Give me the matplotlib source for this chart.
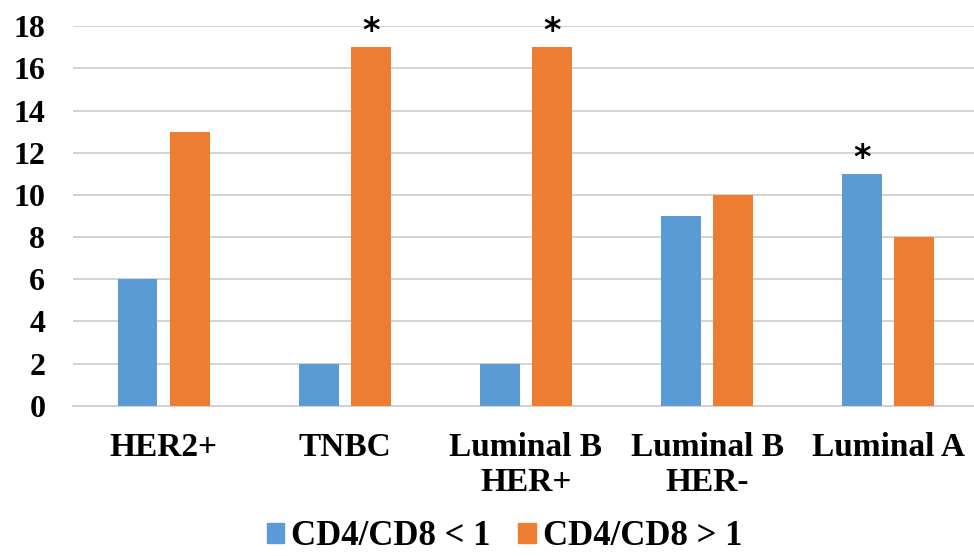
import matplotlib
matplotlib.use("Agg")
import matplotlib.pyplot as plt
import numpy as np
from matplotlib.patches import Patch

categories = ["HER2+", "TNBC", "Luminal B\nHER+", "Luminal B\nHER-", "Luminal A"]
ratio_below_1 = [6, 2, 2, 9, 11]
ratio_above_1 = [13, 17, 17, 10, 8]
series_names = ["CD4/CD8 < 1", "CD4/CD8 > 1"]
# which bar of each group carries a significance star (0 = blue, 1 = orange, None = none)
starred = [None, 1, 1, None, 0]
y_ticks = list(range(0, 19, 2))

blue = "#5B9BD5"
orange = "#ED7D31"

plt.rcParams["font.family"] = ["Liberation Serif", "DejaVu Serif"]
plt.rcParams["font.weight"] = "bold"

fig = plt.figure(figsize=(9.74, 5.56), dpi=100)
ax = fig.add_axes([0.075, 0.270, 0.93, 0.683])

x = np.arange(len(categories))
w = 0.22
off = 0.144
ax.bar(x - off, ratio_below_1, w, color=blue, zorder=3)
ax.bar(x + off, ratio_above_1, w, color=orange, zorder=3)

for i, s in enumerate(starred):
    if s is None:
        continue
    xs = x[i] + (off if s == 1 else -off)
    val = (ratio_above_1 if s == 1 else ratio_below_1)[i]
    ax.text(xs, val - 0.05, "*", ha="center", va="bottom", fontsize=24,
            fontweight="bold", color="black", family="DejaVu Sans")

ax.set_xlim(-0.5, len(categories) - 0.5)
ax.set_ylim(0, 18)
ax.set_yticks(y_ticks)
ax.yaxis.grid(True, color="#d0d0d0", linewidth=1.3, zorder=0)
ax.set_axisbelow(True)
for sp in ["top", "right", "left"]:
    ax.spines[sp].set_visible(False)
ax.spines["bottom"].set_color("#d0d0d0")
ax.spines["bottom"].set_linewidth(1.3)
ax.tick_params(axis="both", length=0)
ax.tick_params(axis="y", labelsize=23, pad=20)
ax.tick_params(axis="x", labelsize=24, pad=19)
ax.set_xticks(x)
ax.set_xticklabels(categories, linespacing=1.15, va="top")
for t in ax.get_yticklabels() + ax.get_xticklabels():
    t.set_fontweight("bold")

handles = [Patch(color=blue), Patch(color=orange)]
fig.legend(handles, series_names, loc="center", bbox_to_anchor=(0.518, 0.035),
           ncol=2, frameon=False, handlelength=0.5, handleheight=0.5,
           handletextpad=0.2, columnspacing=0.8, borderpad=0.05,
           prop={"weight": "bold", "size": 25})

fig.savefig("out.png", dpi=100)
